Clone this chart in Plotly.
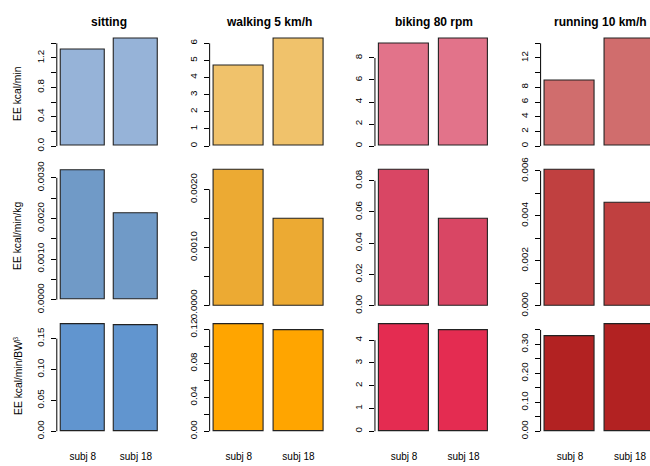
import plotly.graph_objects as go

# ---- data -------------------------------------------------------------
subjects = ["subj 8", "subj 18"]
activities = ["sitting", "walking 5 km/h", "biking 80 rpm", "running 10 km/h"]
row_titles = ["EE kcal/min", "EE kcal/min/kg", "EE kcal/min/BW<sup>β</sup>"]

# energy expenditure, one pair (subj 8, subj 18) per activity
ee_per_min = [[1.31, 1.46], [4.72, 6.26], [9.32, 9.73], [8.97, 14.6]]
ee_per_kg = [[0.00318, 0.00213], [0.00233, 0.00149], [0.0867, 0.0557], [0.00603, 0.00459]]
ee_per_bw = [[0.173, 0.172], [0.126, 0.119], [4.69, 4.45], [0.327, 0.369]]

# y tick step and labels (blank = unlabeled tick)
ticks_per_min = [
    (0.2, ["0.0", "", "0.4", "", "0.8", "", "1.2", ""]),
    (1, ["0", "1", "2", "3", "4", "5", "6"]),
    (2, ["0", "2", "4", "6", "8"]),
    (2, ["0", "2", "4", "6", "8", "", "12", ""]),
]
ticks_per_kg = [
    (0.0005, ["0.0000", "", "0.0010", "", "0.0020", "", "0.0030"]),
    (0.0005, ["0.0000", "", "0.0010", "", "0.0020"]),
    (0.02, ["0.00", "0.02", "0.04", "0.06", "0.08"]),
    (0.001, ["0.000", "", "0.002", "", "0.004", "", "0.006"]),
]
ticks_per_bw = [
    (0.05, ["0.00", "0.05", "0.10", "0.15"]),
    (0.02, ["0.00", "", "0.04", "", "0.08", "", "0.12"]),
    (1, ["0", "1", "2", "3", "4"]),
    (0.05, ["0.00", "", "0.10", "", "0.20", "", "0.30", ""]),
]

colors_per_min = ["#96B3D8", "#F0C26B", "#E2738A", "#D06D6D"]
colors_per_kg = ["#709AC7", "#ECAA33", "#D94664", "#C04040"]
colors_per_bw = ["#6195CF", "#FFA500", "#E42C51", "#B22222"]

rows = [
    (ee_per_min, ticks_per_min, colors_per_min),
    (ee_per_kg, ticks_per_kg, colors_per_kg),
    (ee_per_bw, ticks_per_bw, colors_per_bw),
]

# ---- panel geometry (pixels in a 650 x 466 page) -----------------------
W, H = 650, 466
col_bars_px = [(60.7, 158.0), (214.0, 323.3), (379.3, 488.3), (545.0, 655.0)]
# (pixel of value 0, pixel of the tallest bar) per row/column
panel_y_px = [
    [(143.0, 32.0)] * 4,
    [(302.0, 168.3), (308.3, 168.0), (308.3, 168.0), (308.3, 168.0)],
    [(438.3, 327.7)] * 4,
]
row_title_y = [89, 236, 381]
title_y = 15

FONT = "Liberation Sans, Arial, Helvetica, sans-serif"
TICK_SIZE = 9.8
LAB_SIZE = 10.3
BAR_W = 1 / 1.2          # bar width 1, space 0.2 (category spacing 1.2)
PAD = 0.088 / 1.2        # 4 % axis extension

fig = go.Figure()
layout = dict(
    width=W, height=H,
    margin=dict(l=0, r=0, t=0, b=0),
    paper_bgcolor="white", plot_bgcolor="white",
    showlegend=False,
    font=dict(family=FONT, size=TICK_SIZE, color="black"),
    bargap=0,
)
shapes, annotations = [], []

for r, (values, ticks, colors) in enumerate(rows):
    for c in range(4):
        n = r * 4 + c + 1
        xa, ya = f"x{n}" if n > 1 else "x", f"y{n}" if n > 1 else "y"
        vals = values[c]
        step, labels = ticks[c]

        fig.add_trace(go.Bar(
            x=subjects, y=vals, width=BAR_W,
            marker=dict(color=colors[c], line=dict(color="#222222", width=1.1)),
            xaxis=xa, yaxis=ya, hoverinfo="skip",
        ))

        # x axis: categories at 0 and 1, bar edges at -0.4167 and 1.4167
        b1, b2 = col_bars_px[c]
        s = (b2 - b1) / (1 + BAR_W)
        left_px = b1 - PAD * s
        right_px = min(W, b2 + PAD * s)
        r0 = -BAR_W / 2 - PAD
        r1 = -BAR_W / 2 + (right_px - b1) / s
        layout[f"xaxis{n}"] = dict(
            domain=[left_px / W, right_px / W], range=[r0, r1],
            anchor=ya, showgrid=False, zeroline=False, showline=False,
            ticks="", showticklabels=(r == 2), ticklabelstandoff=13,
            tickfont=dict(size=LAB_SIZE - 0.3), fixedrange=True,
        )

        # y axis: 4 % extension below 0 and above the tallest bar
        zero_px, top_px = panel_y_px[r][c]
        vmax = max(vals)
        span = zero_px - top_px
        bot_dom = zero_px + 0.04 * span
        top_dom = top_px - 0.04 * span
        tickvals = [round(i * step, 6) for i in range(len(labels))]
        layout[f"yaxis{n}"] = dict(
            domain=[1 - bot_dom / H, 1 - top_dom / H],
            range=[-0.04 * vmax, 1.04 * vmax],
            anchor=xa, showgrid=False, zeroline=False, showline=False,
            tickmode="array", tickvals=tickvals, ticktext=labels,
            ticks="outside", ticklen=5, tickwidth=1, tickcolor="black",
            tickangle=-90, ticklabelstandoff=3, tickfont=dict(size=TICK_SIZE),
            fixedrange=True,
        )
        # axis line spans the first to the last tick
        shapes.append(dict(
            type="line", xref=f"{xa} domain", yref=ya,
            x0=0, x1=0, y0=0, y1=tickvals[-1],
            line=dict(color="black", width=1),
        ))

for c, name in enumerate(activities):
    b1, b2 = col_bars_px[c]
    annotations.append(dict(
        text=name, xref="paper", yref="paper",
        x=(b1 + b2) / 2 / W, y=1 - title_y / H,
        xanchor="center", yanchor="middle", showarrow=False,
        font=dict(family=FONT, size=12, weight="bold", color="black"),
    ))

for r, name in enumerate(row_titles):
    annotations.append(dict(
        text=name, xref="paper", yref="paper",
        x=18 / W, y=1 - row_title_y[r] / H, textangle=-90,
        xanchor="center", yanchor="middle", showarrow=False,
        font=dict(family=FONT, size=LAB_SIZE, color="black"),
    ))

layout["shapes"] = shapes
layout["annotations"] = annotations
fig.update_layout(**layout)
fig.write_html("out.html")
